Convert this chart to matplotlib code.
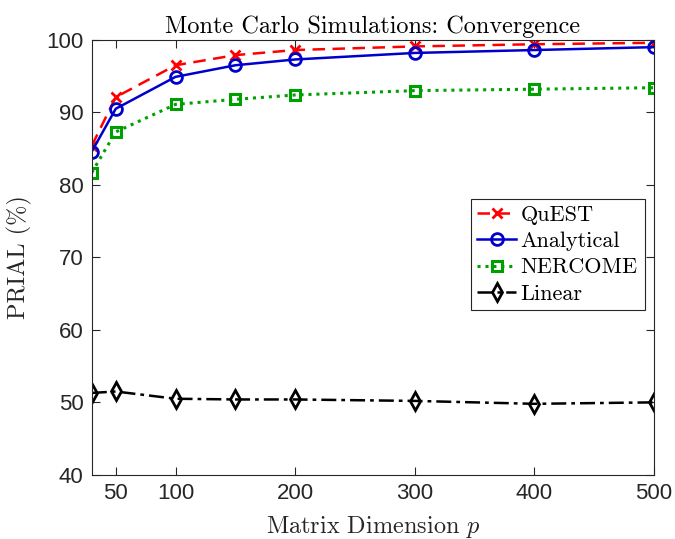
import matplotlib
matplotlib.use("Agg")
import matplotlib.pyplot as plt

# PRIAL (%) vs matrix dimension p
dims = [30, 50, 100, 150, 200, 300, 400, 500]
quest = [85.4, 92.1, 96.5, 97.9, 98.6, 99.1, 99.4, 99.6]
analytical = [84.6, 90.5, 94.9, 96.5, 97.3, 98.2, 98.6, 99.0]
nercome = [81.7, 87.3, 91.1, 91.8, 92.4, 93.0, 93.2, 93.4]
linear = [51.3, 51.5, 50.5, 50.4, 50.4, 50.2, 49.8, 50.0]

xticks = [50, 100, 200, 300, 400, 500]
yticks = [40, 50, 60, 70, 80, 90, 100]

plt.rcParams["mathtext.fontset"] = "cm"
serif = {"family": "cmr10", "size": 17.5}
tickfont = ["Liberation Sans Narrow", "Liberation Sans", "DejaVu Sans"]

fig = plt.figure(figsize=(6.75, 5.39), dpi=100)
ax = fig.add_axes([0.136, 0.119, 0.833, 0.807])

lw = 1.8
ax.plot(dims, quest, color="#ff0000", ls=(0, (5, 3)), lw=lw, marker="x",
        ms=7.5, mew=2.0, label="QuEST")
ax.plot(dims, analytical, color="#0000cc", ls="-", lw=lw, marker="o",
        ms=8.5, mew=2.0, mfc="none", label="Analytical")
ax.plot(dims, nercome, color="#00a000", ls=(0, (1, 1.6)), lw=lw + 0.4, marker="s",
        ms=6.5, mew=2.2, mfc="none", label="NERCOME")
ax.plot(dims, linear, color="black", ls=(0, (6, 2, 1.5, 2)), lw=lw, marker="d",
        ms=9, mew=2.0, mfc="none", label="Linear")

ax.set_xlim(30, 500)
ax.set_ylim(40, 100)
ax.set_xticks(xticks)
ax.set_yticks(yticks)
for lab in ax.get_xticklabels() + ax.get_yticklabels():
    lab.set_family(tickfont)
    lab.set_fontsize(16)
    lab.set_color("#262626")
ax.tick_params(direction="in", top=True, right=True, length=6, width=0.8,
               color="#262626", pad=6)
for s in ax.spines.values():
    s.set_color("#262626")
    s.set_linewidth(0.8)

ax.set_title("Monte Carlo Simulations: Convergence", fontdict=serif, pad=5)
ax.set_xlabel("Matrix Dimension $p$", fontdict=serif, color="#262626", labelpad=7)
ax.set_ylabel("PRIAL (%)", fontdict=serif, color="#262626", labelpad=10)

leg = ax.legend(loc="upper right", bbox_to_anchor=(0.983, 0.635),
                prop={"family": "cmr10", "size": 16}, fancybox=False,
                framealpha=1, edgecolor="#262626", handlelength=1.75,
                handletextpad=0.2, borderpad=0.3, labelspacing=0.3,
                borderaxespad=0)
leg.get_frame().set_linewidth(0.8)

fig.savefig("out.png", dpi=100)
